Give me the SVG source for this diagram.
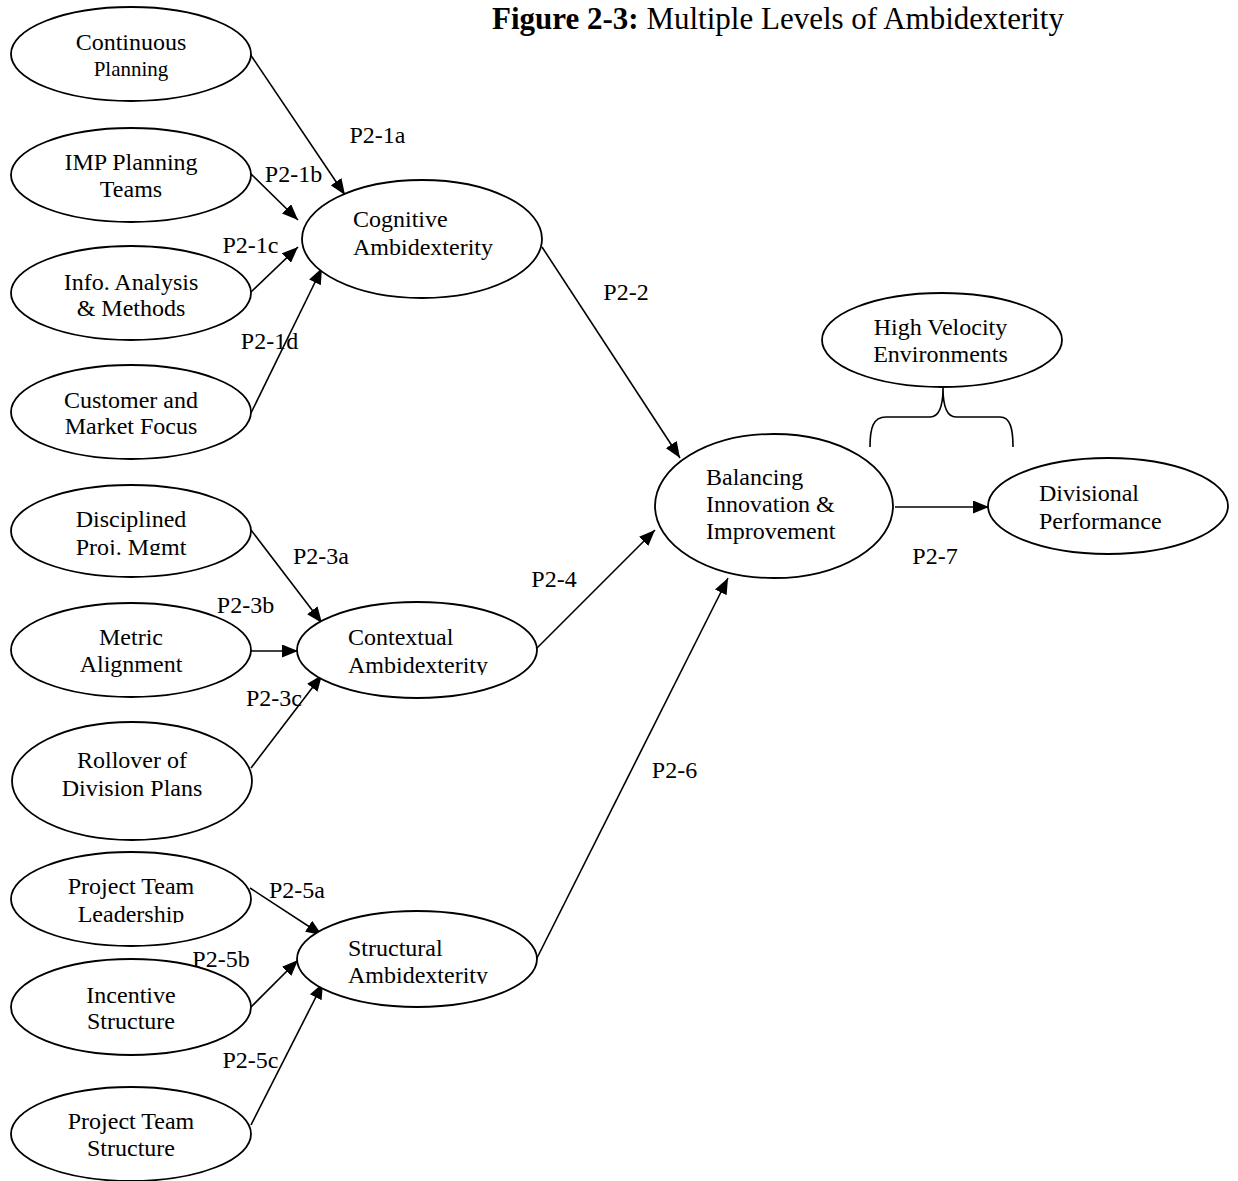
<svg xmlns="http://www.w3.org/2000/svg" width="1238" height="1181" viewBox="0 0 1238 1181">
<style>
  .node ellipse { fill: #fff; stroke: #000; stroke-width: 1.8; }
  text { font-family: "Liberation Serif", "Times New Roman", serif; font-size: 24px; fill: #000; text-anchor: middle; }
  text.s { text-anchor: start; }
  text.small { font-size: 21px; }
  text.title { font-size: 31px; }
  .conn line, .conn path { stroke: #000; stroke-width: 1.6; fill: none; }
  .conn line { marker-end: url(#arr); }
</style>
<defs>
  <marker id="arr" markerUnits="userSpaceOnUse" markerWidth="17" markerHeight="13" refX="16" refY="6.5" orient="auto">
    <path d="M0,0 L16,6.5 L0,13 z" fill="#000"/>
  </marker>
  <clipPath id="clipDisc"><rect x="0" y="480" width="260" height="75"/></clipPath>
  <clipPath id="clipPTL"><rect x="0" y="850" width="260" height="73"/></clipPath>
  <clipPath id="clipCtx"><rect x="300" y="600" width="240" height="75"/></clipPath>
  <clipPath id="clipStr"><rect x="300" y="910" width="240" height="74"/></clipPath>
</defs>
<rect width="1238" height="1181" fill="#fff"/>

<g id="title">
  <text class="title" x="778" y="29"><tspan font-weight="bold">Figure 2-3:</tspan> Multiple Levels of Ambidexterity</text>
</g>

<g id="connectors" class="conn">
  <line x1="250" y1="54" x2="345" y2="195"/>
  <line x1="250" y1="173" x2="298" y2="220"/>
  <line x1="251" y1="292" x2="298" y2="247"/>
  <line x1="251" y1="413" x2="322" y2="268"/>
  <line x1="542" y1="247" x2="680" y2="458"/>
  <line x1="251" y1="530" x2="322" y2="623"/>
  <line x1="251" y1="651" x2="298" y2="651"/>
  <line x1="251" y1="768" x2="322" y2="675"/>
  <line x1="536" y1="649" x2="655" y2="530"/>
  <line x1="250" y1="888" x2="322" y2="935"/>
  <line x1="251" y1="1007" x2="298" y2="960"/>
  <line x1="251" y1="1125" x2="323" y2="983"/>
  <line x1="536" y1="960" x2="728" y2="578"/>
  <line x1="895" y1="507" x2="989" y2="507"/>
  <path d="M870,447 C870,428 873,417 886,417 L930,417 C939,417 943,408 943,388 C943,408 947,417 956,417 L1000,417 C1010,417 1013,428 1013,447"/>
</g>

<g id="labels">
  <text x="377.5" y="143">P2-1a</text>
  <text x="293.5" y="182">P2-1b</text>
  <text x="250.5" y="253">P2-1c</text>
  <text x="269.5" y="349">P2-1d</text>
  <text x="626" y="300">P2-2</text>
  <text x="321" y="564">P2-3a</text>
  <text x="245.5" y="613">P2-3b</text>
  <text x="274" y="706">P2-3c</text>
  <text x="554" y="587">P2-4</text>
  <text x="297" y="898">P2-5a</text>
  <text x="221" y="967">P2-5b</text>
  <text x="250.5" y="1068">P2-5c</text>
  <text x="674.5" y="778">P2-6</text>
  <text x="935" y="564">P2-7</text>
</g>

<g id="n-continuous" class="node">
  <ellipse cx="131" cy="54" rx="120" ry="47"/>
  <text x="131" y="50">Continuous</text>
  <text class="small" x="131" y="76">Planning</text>
</g>
<g id="n-imp" class="node">
  <ellipse cx="131" cy="175" rx="120" ry="47"/>
  <text x="131" y="170">IMP Planning</text>
  <text x="131" y="197">Teams</text>
</g>
<g id="n-info" class="node">
  <ellipse cx="131" cy="293" rx="120" ry="47"/>
  <text x="131" y="290">Info. Analysis</text>
  <text x="131" y="316">&amp; Methods</text>
</g>
<g id="n-customer" class="node">
  <ellipse cx="131" cy="412" rx="120" ry="47"/>
  <text x="131" y="408">Customer and</text>
  <text x="131" y="434">Market Focus</text>
</g>
<g id="n-disciplined" class="node">
  <ellipse cx="131" cy="531" rx="120" ry="46"/>
  <g clip-path="url(#clipDisc)">
    <text x="131" y="527">Disciplined</text>
    <text x="131" y="555">Proj. Mgmt</text>
  </g>
</g>
<g id="n-metric" class="node">
  <ellipse cx="131" cy="650" rx="120" ry="47"/>
  <text x="131" y="645">Metric</text>
  <text x="131" y="672">Alignment</text>
</g>
<g id="n-rollover" class="node">
  <ellipse cx="132" cy="781" rx="120" ry="59"/>
  <text x="132" y="768">Rollover of</text>
  <text x="132" y="796">Division Plans</text>
</g>
<g id="n-ptl" class="node">
  <ellipse cx="131" cy="899" rx="120" ry="47"/>
  <g clip-path="url(#clipPTL)">
    <text x="131" y="894">Project Team</text>
    <text x="131" y="922">Leadership</text>
  </g>
</g>
<g id="n-incentive" class="node">
  <ellipse cx="131" cy="1007" rx="120" ry="48"/>
  <text x="131" y="1003">Incentive</text>
  <text x="131" y="1029">Structure</text>
</g>
<g id="n-pts" class="node">
  <ellipse cx="131" cy="1134" rx="120" ry="47"/>
  <text x="131" y="1129">Project Team</text>
  <text x="131" y="1156">Structure</text>
</g>

<g id="n-cognitive" class="node">
  <ellipse cx="422" cy="239" rx="120" ry="59"/>
  <text class="s" x="353" y="227">Cognitive</text>
  <text class="s" x="353" y="255">Ambidexterity</text>
</g>
<g id="n-contextual" class="node">
  <ellipse cx="417" cy="650" rx="120" ry="48"/>
  <g clip-path="url(#clipCtx)">
    <text class="s" x="348" y="645">Contextual</text>
    <text class="s" x="348" y="673">Ambidexterity</text>
  </g>
</g>
<g id="n-structural" class="node">
  <ellipse cx="417" cy="959" rx="120" ry="48"/>
  <g clip-path="url(#clipStr)">
    <text class="s" x="348" y="956">Structural</text>
    <text class="s" x="348" y="983">Ambidexterity</text>
  </g>
</g>
<g id="n-balancing" class="node">
  <ellipse cx="774" cy="506" rx="119" ry="72"/>
  <text class="s" x="706" y="485">Balancing</text>
  <text class="s" x="706" y="512">Innovation &amp;</text>
  <text class="s" x="706" y="539">Improvement</text>
</g>
<g id="n-highvelocity" class="node">
  <ellipse cx="942" cy="340" rx="120" ry="47"/>
  <text x="940.5" y="335">High Velocity</text>
  <text x="940.5" y="362">Environments</text>
</g>
<g id="n-divisional" class="node">
  <ellipse cx="1108" cy="506" rx="120" ry="48"/>
  <text class="s" x="1039" y="501">Divisional</text>
  <text class="s" x="1039" y="529">Performance</text>
</g>
</svg>
